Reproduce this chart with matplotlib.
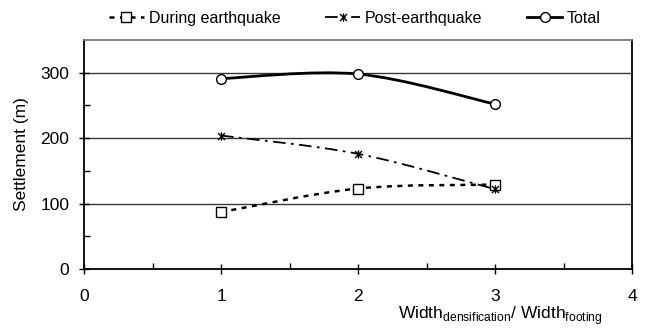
import numpy as np
import matplotlib
matplotlib.use('Agg')
import matplotlib.pyplot as plt
from matplotlib.path import Path
from matplotlib.patches import PathPatch
from matplotlib.lines import Line2D

plt.rcParams['font.family'] = ['Liberation Sans', 'DejaVu Sans']
plt.rcParams['mathtext.fontset'] = 'custom'
plt.rcParams['mathtext.rm'] = 'Liberation Sans'

# data
width_ratio = [1, 2, 3]
during_eq = [87, 123, 129]
post_eq = [204, 176, 122]
total = [291, 298, 252]


def smooth_path(x, y):
    # Excel-style smoothed line: cubic Bezier through the points
    pts = np.column_stack([x, y]).astype(float)
    verts = [pts[0]]
    codes = [Path.MOVETO]
    n = len(pts)
    for i in range(n - 1):
        p_prev = pts[max(i - 1, 0)]
        p0 = pts[i]
        p1 = pts[i + 1]
        p_next = pts[min(i + 2, n - 1)]
        c1 = p0 + (p1 - p_prev) / 6.0
        c2 = p1 - (p_next - p0) / 6.0
        verts += [c1, c2, p1]
        codes += [Path.CURVE4] * 3
    return Path(verts, codes)


# star marker: x with a vertical bar
star = Path([(-1, -1), (1, 1), (-1, 1), (1, -1), (0, -1.2), (0, 1.2)],
            [Path.MOVETO, Path.LINETO, Path.MOVETO, Path.LINETO, Path.MOVETO, Path.LINETO])

fig = plt.figure(figsize=(6.45, 3.29), dpi=100)
ax = fig.add_axes([84 / 645, 1 - 269 / 329, 548 / 645, 229 / 329])

series = [
    (during_eq, (0, (2, 2.2)), 1.8, 's', 'During earthquake', 6.5),
    (post_eq, (0, (7, 3, 1.5, 3)), 1.3, star, 'Post-earthquake', 6),
    (total, '-', 2.0, 'o', 'Total', 7),
]

handles = []
for vals, ls, lw, mk, label, ms in series:
    patch = PathPatch(smooth_path(width_ratio, vals), facecolor='none',
                      edgecolor='black', linewidth=lw, linestyle=ls, zorder=3)
    ax.add_patch(patch)
    ax.plot(width_ratio, vals, linestyle='none', marker=mk, markersize=ms,
            markerfacecolor='white', markeredgecolor='black',
            markeredgewidth=1.0, zorder=4)
    handles.append(Line2D([], [], color='black', linestyle=ls, linewidth=lw,
                          marker=mk, markersize=ms, markerfacecolor='white',
                          markeredgecolor='black', markeredgewidth=1.0,
                          label=label))

ax.set_xlim(0, 4)
ax.set_ylim(0, 350)
ax.set_xticks([0, 1, 2, 3, 4])
ax.set_xticks([0.5, 1.5, 2.5, 3.5], minor=True)
ax.set_yticks([0, 100, 200, 300])
ax.set_yticks([50, 150, 250], minor=True)

for y in [100, 200, 300]:
    ax.axhline(y, color='#3a3a3a', linewidth=1.0, zorder=1)

ax.tick_params(axis='both', which='major', direction='inout', length=7,
               width=1.0, labelsize=12.5)
ax.tick_params(axis='x', which='major', pad=11)
ax.tick_params(axis='y', which='major', pad=7)
ax.tick_params(axis='both', which='minor', direction='in', length=4, width=1.0)

for s in ['left', 'bottom', 'right']:
    ax.spines[s].set_linewidth(1.3)
    ax.spines[s].set_color('black')
ax.spines['top'].set_color('#777777')
ax.spines['top'].set_linewidth(1.3)

ax.set_ylabel('Settlement (m)', fontsize=12.5, labelpad=8)
ax.set_xlabel('Width$_\\mathregular{densification}$/ Width$_\\mathregular{footing}$',
              fontsize=12.5, labelpad=2)
ax.xaxis.set_label_coords(0.759, -0.155)

fig.legend(handles=handles, loc='center', bbox_to_anchor=(0.55, 0.945), ncol=3,
           frameon=False, fontsize=11.5, handlelength=2.2, handletextpad=0.3,
           columnspacing=2.8)

fig.savefig('out.png', dpi=100)
